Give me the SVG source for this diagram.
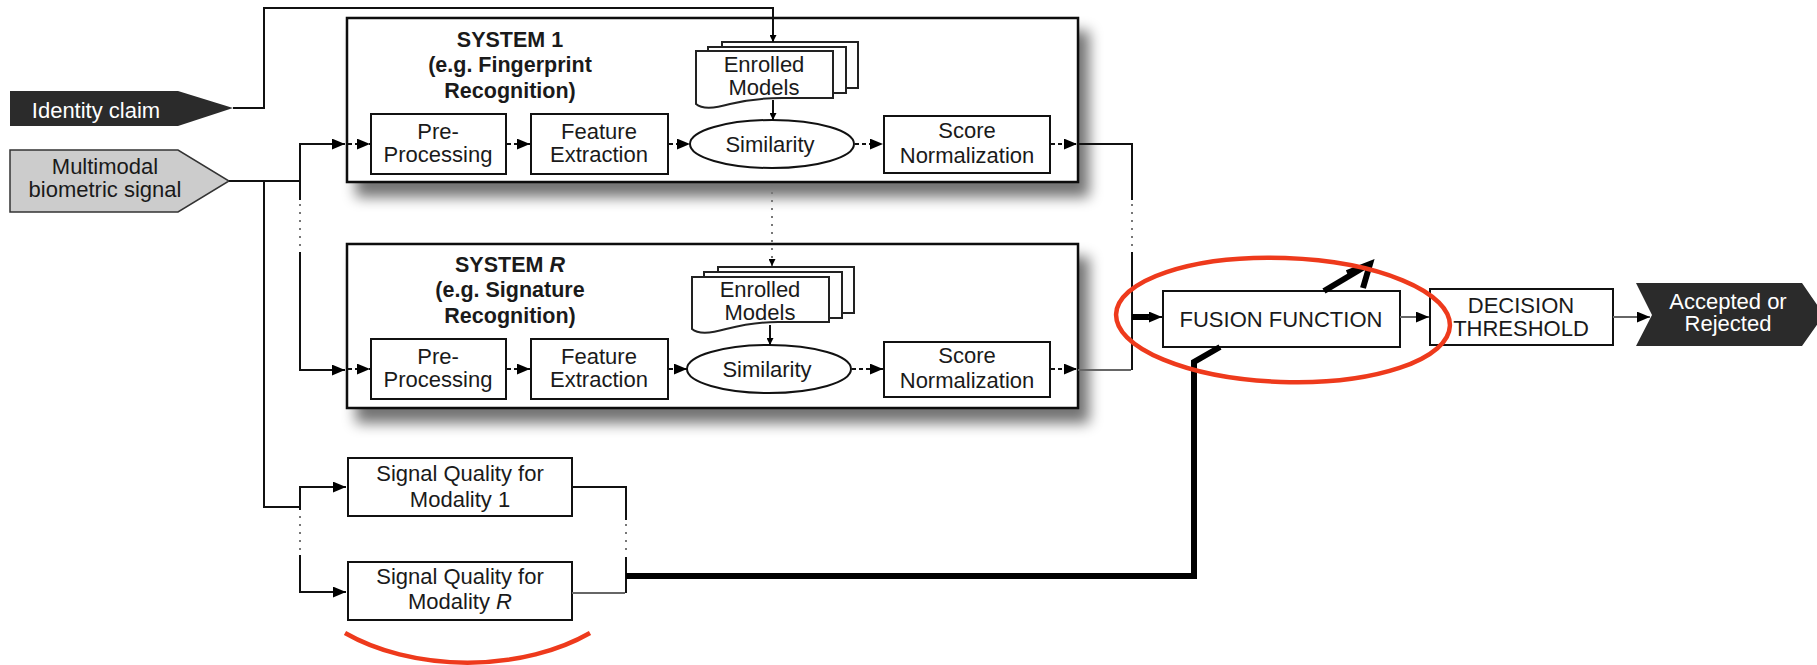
<svg xmlns="http://www.w3.org/2000/svg" width="1817" height="665" viewBox="0 0 1817 665">
<defs>
<style>
text{font-family:"Liberation Sans",Arial,sans-serif;font-size:22px;fill:#1a1a1a;text-anchor:middle}
.t{font-weight:bold;font-size:21.5px}
.w{fill:#ffffff}
.box{fill:#ffffff;stroke:#111;stroke-width:2}
.sys{fill:#ffffff;stroke:#111;stroke-width:2.5}
.ln{fill:none;stroke:#111;stroke-width:2}
.gl{fill:none;stroke:#666;stroke-width:2}
.dash{fill:none;stroke:#111;stroke-width:2;stroke-dasharray:4 3}
.dot{fill:none;stroke:#777;stroke-width:2;stroke-dasharray:2 6}
.thick{fill:none;stroke:#000;stroke-width:6}
.red{fill:none;stroke:#ee3a1c;stroke-width:4.5}
</style>
<marker id="ah" viewBox="0 0 12 10" refX="12" refY="5" markerWidth="13" markerHeight="11" markerUnits="userSpaceOnUse" orient="auto"><path d="M0,0 L12,5 L0,10 z" fill="#000"/></marker>
<marker id="ahs" viewBox="0 0 8 8" refX="8" refY="4" markerWidth="7" markerHeight="7" markerUnits="userSpaceOnUse" orient="auto"><path d="M0,0 L8,4 L0,8 z" fill="#000"/></marker>
<filter id="sh" x="-5%" y="-10%" width="115%" height="140%">
<feGaussianBlur in="SourceAlpha" stdDeviation="7"/>
<feOffset dx="10" dy="14" result="b"/>
<feComponentTransfer><feFuncA type="linear" slope="0.55"/></feComponentTransfer>
<feMerge><feMergeNode/><feMergeNode in="SourceGraphic"/></feMerge>
</filter>
</defs>
<rect width="1817" height="665" fill="#ffffff"/>

<g id="system1">
<rect class="sys" x="347" y="18" width="731" height="164" filter="url(#sh)"/>
<text class="t" x="510" y="47">SYSTEM 1</text>
<text class="t" x="510" y="72">(e.g. Fingerprint</text>
<text class="t" x="510" y="98">Recognition)</text>
</g>
<g id="systemR">
<rect class="sys" x="347" y="244" width="731" height="164" filter="url(#sh)"/>
<text class="t" x="510" y="272">SYSTEM <tspan font-style="italic">R</tspan></text>
<text class="t" x="510" y="297">(e.g. Signature</text>
<text class="t" x="510" y="323">Recognition)</text>
</g>

<g id="identity-claim">
<path d="M10,91 H178 L233,108 L178,126 H10 Z" fill="#2b2b2b"/>
<text class="w" x="96" y="118">Identity claim</text>
</g>
<g id="multimodal-signal">
<path d="M10,150 H178 L229,181 L178,212 H10 Z" fill="#cccccc" stroke="#333" stroke-width="1.5"/>
<text x="105" y="174">Multimodal</text>
<text x="105" y="197">biometric signal</text>
</g>

<g id="preproc1"><rect class="box" x="371" y="114" width="135" height="60"/><text x="438" y="139">Pre-</text><text x="438" y="162">Processing</text></g>
<g id="feat1"><rect class="box" x="531" y="114" width="137" height="60"/><text x="599" y="139">Feature</text><text x="599" y="162">Extraction</text></g>
<g id="models1">
<rect x="722" y="42" width="136" height="46" fill="#fff" stroke="#222" stroke-width="2"/>
<rect x="708" y="47" width="138" height="46" fill="#fff" stroke="#222" stroke-width="2"/>
<path d="M696,51 H833 V98 H782 C762,98 746,100 730,104 C716,108 703,110 696,104 Z" fill="#fff" stroke="#222" stroke-width="2"/>
<text x="764" y="72" font-size="19">Enrolled</text><text x="764" y="95" font-size="19">Models</text>
</g>
<g id="sim1"><ellipse class="box" cx="772" cy="144" rx="82" ry="24"/><text x="770" y="152">Similarity</text></g>
<g id="score1"><rect class="box" x="884" y="116" width="166" height="57"/><text x="967" y="138">Score</text><text x="967" y="163">Normalization</text></g>

<g id="preprocR"><rect class="box" x="371" y="339" width="135" height="60"/><text x="438" y="364">Pre-</text><text x="438" y="387">Processing</text></g>
<g id="featR"><rect class="box" x="531" y="339" width="137" height="60"/><text x="599" y="364">Feature</text><text x="599" y="387">Extraction</text></g>
<g id="modelsR">
<rect x="718" y="267" width="136" height="46" fill="#fff" stroke="#222" stroke-width="2"/>
<rect x="704" y="272" width="138" height="46" fill="#fff" stroke="#222" stroke-width="2"/>
<path d="M692,277 H829 V322 H778 C758,322 742,325 726,329 C712,333 699,335 692,329 Z" fill="#fff" stroke="#222" stroke-width="2"/>
<text x="760" y="297" font-size="19">Enrolled</text><text x="760" y="320" font-size="19">Models</text>
</g>
<g id="simR"><ellipse class="box" cx="769" cy="369" rx="82" ry="24"/><text x="767" y="377">Similarity</text></g>
<g id="scoreR"><rect class="box" x="884" y="342" width="166" height="55"/><text x="967" y="363">Score</text><text x="967" y="388">Normalization</text></g>

<g id="quality1"><rect class="box" x="348" y="458" width="224" height="58"/><text x="460" y="481">Signal Quality for</text><text x="460" y="507">Modality 1</text></g>
<g id="qualityR"><rect class="box" x="348" y="562" width="224" height="58"/><text x="460" y="584">Signal Quality for</text><text x="460" y="609">Modality <tspan font-style="italic">R</tspan></text></g>

<g id="fusion"><rect class="box" x="1163" y="291" width="237" height="56"/><text x="1281" y="327">FUSION FUNCTION</text></g>
<g id="decision"><rect class="box" x="1430" y="289" width="183" height="56"/><text x="1521" y="313">DECISION</text><text x="1521" y="336">THRESHOLD</text></g>
<g id="result">
<path d="M1636,283 H1802 L1824,315 L1802,346 H1636 L1652,315 Z" fill="#2b2b2b"/>
<text class="w" x="1728" y="309">Accepted or</text>
<text class="w" x="1728" y="331">Rejected</text>
</g>

<g id="connectors">
<path class="ln" d="M233,108 H264 V8 H773 V42" marker-end="url(#ahs)"/>
<path class="ln" d="M229,181 H300"/>
<path class="ln" d="M264,181 V507 H300"/>
<path class="ln" d="M300,200 V144 H345" marker-end="url(#ah)"/>
<path class="dot" d="M300,204 V246"/>
<path class="ln" d="M300,252 V370 H345" marker-end="url(#ah)"/>
<path class="ln" d="M300,510 V487 H346" marker-end="url(#ah)"/>
<path class="dot" d="M300,516 V550"/>
<path class="ln" d="M300,555 V592 H346" marker-end="url(#ah)"/>

<path class="dash" d="M348,144 H370" marker-end="url(#ah)"/>
<path class="dash" d="M507,144 H530" marker-end="url(#ah)"/>
<path class="dash" d="M669,144 H690" marker-end="url(#ah)"/>
<path class="dash" d="M855,144 H883" marker-end="url(#ah)"/>
<path class="dash" d="M1051,144 H1077" marker-end="url(#ah)"/>
<path class="dash" d="M348,369 H370" marker-end="url(#ah)"/>
<path class="dash" d="M507,369 H530" marker-end="url(#ah)"/>
<path class="dash" d="M669,369 H687" marker-end="url(#ah)"/>
<path class="dash" d="M852,369 H883" marker-end="url(#ah)"/>
<path class="dash" d="M1051,369 H1077" marker-end="url(#ah)"/>

<path class="ln" d="M773,100 V120" marker-end="url(#ahs)"/>
<path class="ln" d="M770,325 V345" marker-end="url(#ahs)"/>
<path class="dot" d="M772,184 V266" marker-end="url(#ahs)"/>

<path class="ln" d="M1078,144 H1132 V200"/>
<path class="dot" d="M1132,204 V248"/>
<path class="ln" d="M1132,252 V370"/>
<path class="gl" d="M1131,370 H1078"/>
<path class="thick" d="M1132,317 H1150"/>
<path class="ln" d="M1148,317 H1162" marker-end="url(#ah)"/>
<path class="gl" d="M1400,317 H1429" marker-end="url(#ah)"/>
<path class="gl" d="M1613,317 H1650" marker-end="url(#ah)"/>

<path class="ln" d="M572,487 H626 V520"/>
<path class="dot" d="M626,524 V554"/>
<path class="ln" d="M626,557 V593"/>
<path class="gl" d="M625,593 H572"/>
<path class="thick" d="M626,576 H1194 V362 L1220,347"/>
<path class="thick" d="M1324,291 L1366,266" stroke-width="5"/>
<path class="thick" d="M1347,273 L1370,264 L1363,288" stroke-width="4"/>
</g>

<g id="annotations">
<ellipse class="red" cx="1283" cy="320" rx="167" ry="62" transform="rotate(2 1283 320)"/>
<path class="red" d="M345,633 A180 111 0 0 0 590,633"/>
</g>
</svg>
